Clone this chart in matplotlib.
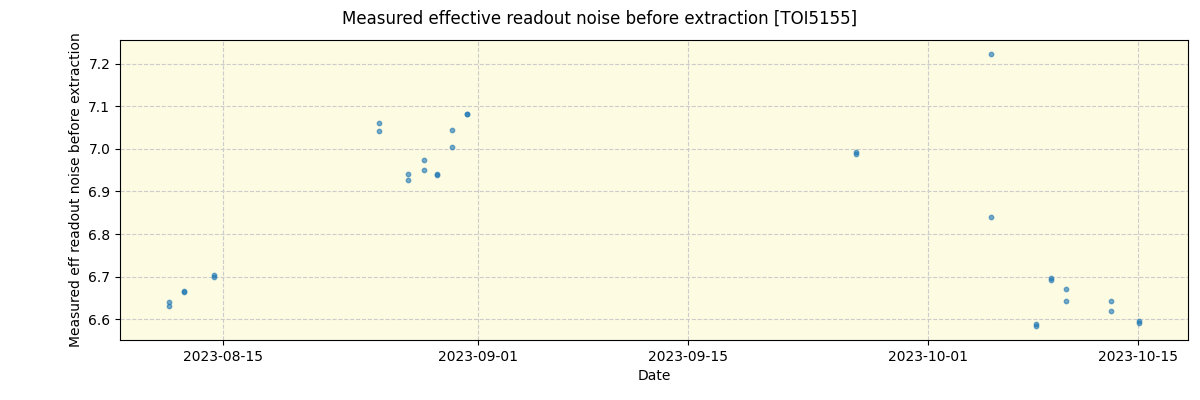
import matplotlib
matplotlib.use("Agg")
from matplotlib import pyplot as plt
import matplotlib.dates as mdates
import pandas as pd

# 数据
dates = [
    "2023-08-11 10:00", "2023-08-11 10:10",
    "2023-08-12 10:00", "2023-08-12 10:10",
    "2023-08-14 10:00", "2023-08-14 10:10",
    "2023-08-25 10:00", "2023-08-25 10:10",
    "2023-08-27 08:00", "2023-08-27 08:10",
    "2023-08-28 10:00", "2023-08-28 10:10",
    "2023-08-29 06:30", "2023-08-29 06:40",
    "2023-08-30 06:30", "2023-08-30 06:40",
    "2023-08-31 06:30", "2023-08-31 06:40",
    "2023-09-26 05:00", "2023-09-26 05:10",
    "2023-10-05 05:00", "2023-10-05 05:10",
    "2023-10-08 05:00", "2023-10-08 05:10",
    "2023-10-09 05:00", "2023-10-09 05:10",
    "2023-10-10 05:00", "2023-10-10 05:10",
    "2023-10-13 05:00", "2023-10-13 05:10",
    "2023-10-15 01:30", "2023-10-15 01:40",
]
noise = [
    6.641, 6.630,
    6.667, 6.663,
    6.704, 6.699,
    7.062, 7.042,
    6.940, 6.926,
    6.975, 6.950,
    6.942, 6.938,
    7.044, 7.005,
    7.083, 7.081,
    6.993, 6.988,
    7.222, 6.839,
    6.589, 6.583,
    6.697, 6.691,
    6.672, 6.643,
    6.643, 6.620,
    6.596, 6.592,
]
x = pd.to_datetime(dates)

fig = plt.figure(figsize=(12, 4), dpi=100)
ax = fig.add_axes([0.1, 0.15, 0.89, 0.75])
ax.set_facecolor("#fdfbe1")

ax.scatter(x, noise, s=10, color="tab:blue", alpha=0.6, zorder=3)

ax.set_xlim(pd.Timestamp("2023-08-08 03:00"), pd.Timestamp("2023-10-18 08:00"))
ax.set_ylim(6.551, 7.256)
ax.xaxis.set_major_locator(mdates.DayLocator(bymonthday=[1, 15]))
ax.xaxis.set_major_formatter(mdates.DateFormatter("%Y-%m-%d"))

# 网格
ax.grid(True, linestyle="--", color="#cccccc", linewidth=0.8, zorder=0)

ax.set_xlabel("Date")
ax.set_ylabel("Measured eff readout noise before extraction")
fig.suptitle("Measured effective readout noise before extraction [TOI5155]", fontsize=12, y=0.975)

plt.savefig("out.png")
